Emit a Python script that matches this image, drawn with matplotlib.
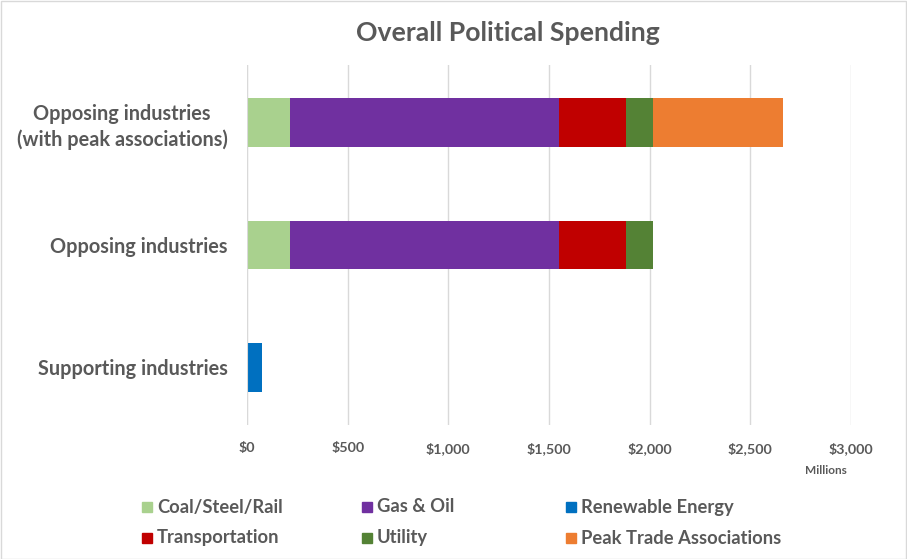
import matplotlib.pyplot as plt
from matplotlib.patches import Rectangle

categories = ["Supporting industries", "Opposing industries",
              "Opposing industries\n(with peak associations)"]
series = ["Coal/Steel/Rail", "Gas & Oil", "Renewable Energy",
          "Transportation", "Utility", "Peak Trade Associations"]
colors = ["#A9D18E", "#7030A0", "#0070C0", "#C00000", "#548235", "#ED7D31"]

# spending in $ millions, one list per series (order matches categories)
coal = [0, 215, 215]
gas_oil = [0, 1333, 1333]
renewable = [76, 0, 0]
transportation = [0, 335, 335]
utility = [0, 133, 133]
peak = [0, 0, 644]
values = [coal, gas_oil, renewable, transportation, utility, peak]

ticks = [0, 500, 1000, 1500, 2000, 2500, 3000]
tick_labels = ["$0", "$500", "$1,000", "$1,500", "$2,000", "$2,500", "$3,000"]

grey = "#595959"
plt.rcParams["font.family"] = ["Lato", "DejaVu Sans"]
plt.rcParams["font.weight"] = "bold"

W, H = 907, 559
fig = plt.figure(figsize=(W / 100, H / 100), dpi=100)
ax = fig.add_axes([247 / W, 1 - 425 / H, (851 - 247) / W, (425 - 65) / H])

# draw in stacking order: coal, gas, renewable, transport, utility, peak
left = [0, 0, 0]
for name, vals, col in zip(series, values, colors):
    ax.barh(range(len(categories)), vals, left=left, height=0.4,
            color=col, edgecolor="none", zorder=3)
    left = [a + b for a, b in zip(left, vals)]

ax.set_xlim(0, 3000)
ax.set_ylim(-0.47, 2.47)
ax.set_xticks(ticks)
ax.set_xticklabels(tick_labels, fontsize=10.3, color=grey, fontweight="bold")
ax.set_yticks(range(len(categories)))
ax.set_yticklabels(categories, fontsize=14.3, color=grey, fontweight="bold",
                   linespacing=1.3, ha="right", multialignment="center")
ax.tick_params(axis="y", length=0, pad=14)
ax.tick_params(axis="x", length=0, pad=12)
ax.grid(axis="x", color="#D9D9D9", linewidth=1, zorder=0)
for s in ax.spines.values():
    s.set_visible(False)
ax.axvline(0, color="#D9D9D9", linewidth=1.5, zorder=4)

fig.text(508 / W, 1 - 33 / H, "Overall Political Spending", ha="center",
         va="center", fontsize=19.2, color=grey, fontweight="bold")
fig.text(826 / W, 1 - 470 / H, "Millions", ha="center", va="center",
         fontsize=8.5, color=grey, fontweight="bold")

# legend laid out like the Excel one: 3 columns, 2 rows
col_x = [147, 367, 571]
row_y = [507, 538]
for i, (name, col) in enumerate(zip(series, colors)):
    x = col_x[i % 3]
    y = row_y[i // 3]
    fig.patches.append(Rectangle(((x - 5) / W, 1 - (y + 5) / H), 10 / W, 10 / H,
                                 transform=fig.transFigure, color=col))
    fig.text((x + 10) / W, 1 - y / H, name, ha="left", va="center",
             fontsize=13.2, color=grey, fontweight="bold")

fig.patches.append(Rectangle((0.5 / W, 0.5 / H), 1 - 1.5 / W, 1 - 1.5 / H,
                             transform=fig.transFigure, fill=False,
                             edgecolor="#D9D9D9", linewidth=1))

fig.savefig("out.png", dpi=100)
